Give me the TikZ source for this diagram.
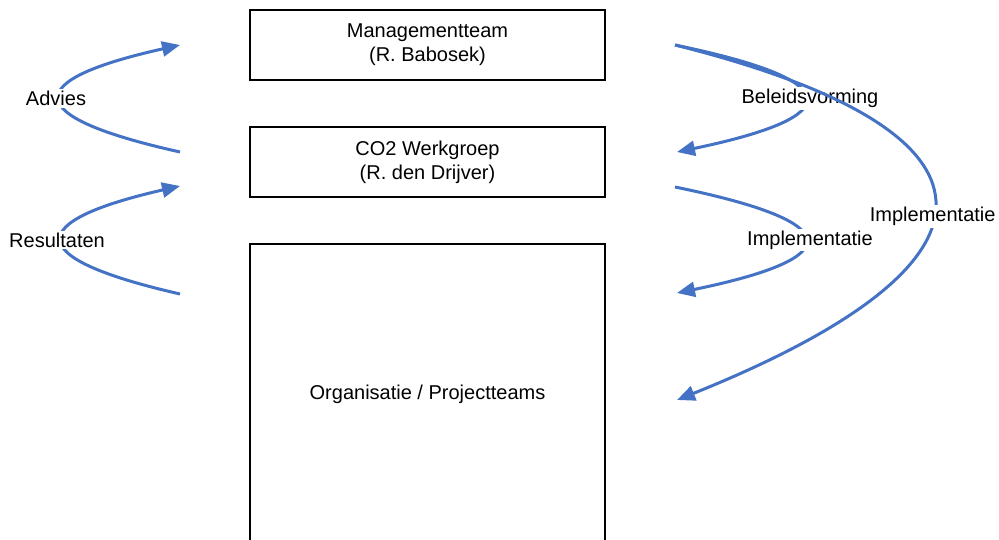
\documentclass[tikz,border=0pt]{standalone}
\usepackage{fontspec}
\setmainfont{Liberation Sans}
\usetikzlibrary{arrows.meta}
\definecolor{flowblue}{RGB}{68,114,196}
\tikzset{
  box/.style={draw=black, line width=1.2pt, minimum width=355pt,
    align=center, inner sep=0pt, font=\fontsize{20}{24}\selectfont},
  flow/.style={-{Triangle[length=18pt,width=15pt]}, line width=3pt, draw=flowblue},
  lbl/.style={fill=white, inner sep=2pt, font=\fontsize{20}{24}\selectfont}
}

\begin{document}
\begin{tikzpicture}[x=1pt, y=-1pt]
  \useasboundingbox (0,0) rectangle (999,540);

  % boxes
  \node[box, minimum height=70pt] (mteam) at (427.5,45) {Managementteam\\(R. Babosek)};
  \node[box, minimum height=70pt] (werkgroep) at (427.5,162) {CO2 Werkgroep\\(R. den Drijver)};
  \node[box, minimum height=301pt] (organisatie) at (427.5,394.5) {Organisatie / Projectteams};

  % free ends of the arrows
  \coordinate (adviesS) at (180,152);
  \coordinate (adviesE) at (180,45);
  \coordinate (resultS) at (180,294);
  \coordinate (resultE) at (180,186);
  \coordinate (beleidS) at (675,45);
  \coordinate (beleidE) at (677,152);
  \coordinate (implS)   at (675,187);
  \coordinate (implE)   at (677,293);
  \coordinate (implBigE) at (677,400);

  % left side
  \draw [flow] (adviesS) .. controls (20,116.3) and (20,80.7) .. node [lbl, pos=0.5, xshift=-4pt] (advies) {Advies} (adviesE);
  \draw [flow] (resultS) .. controls (22.7,258) and (22.7,222) .. node [lbl, pos=0.5, xshift=-5pt] (resultaten) {Resultaten} (resultE);

  % right side
  \draw [flow] (beleidS) .. controls (847.7,80.7) and (848.3,116.3) .. node [lbl, pos=0.5, xshift=5pt] (beleid) {Beleidsvorming} (beleidE);
  \draw [flow] (implS) .. controls (847.7,222.3) and (848.3,257.7) .. node [lbl, pos=0.5, xshift=5pt] (impl) {Implementatie} (implE);
  \draw [flow] (beleidS) .. controls (1015,130) and (1025,260) .. node [lbl, pos=0.54] (implbig) {Implementatie} (implBigE);
\end{tikzpicture}
\end{document}
